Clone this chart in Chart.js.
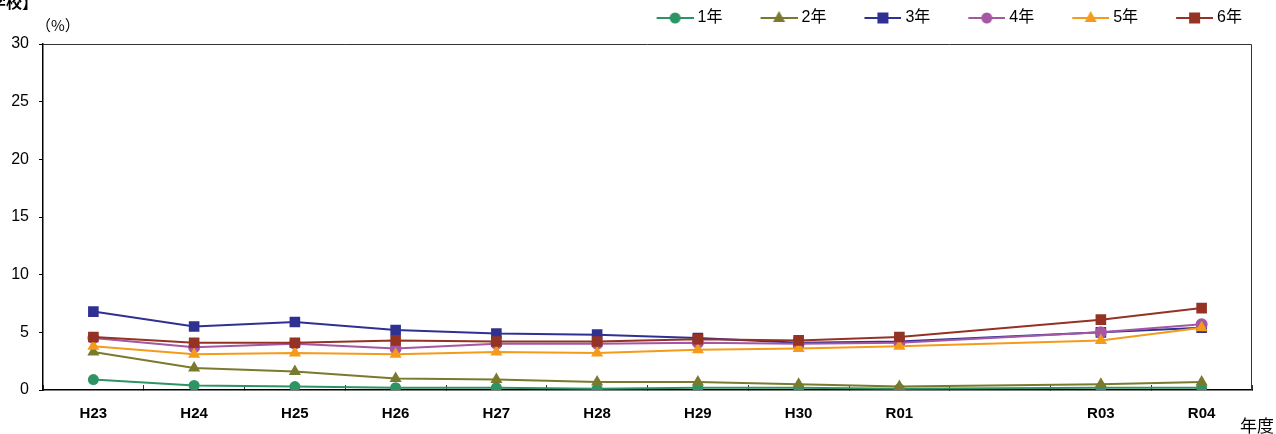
<!DOCTYPE html>
<html>
<head>
<meta charset="utf-8">
<script src="https://cdn.jsdelivr.net/npm/chart.js@4"></script>
<style>
html,body{margin:0;padding:0;background:#fff;}
#wrap{position:relative;width:1276px;height:434px;}
</style>
</head>
<body>
<div id="wrap"><canvas id="c" width="1276" height="434"></canvas></div>
<script>
const categories = ["H23","H24","H25","H26","H27","H28","H29","H30","R01","R02","R03","R04"];
const tickLabels = ["H23","H24","H25","H26","H27","H28","H29","H30","R01","","R03","R04"];
const seriesNames = ["1年","2年","3年","4年","5年","6年"];
const grade1 = [0.9, 0.4, 0.3, 0.2, 0.2, 0.1, 0.2, 0.2, 0.1, null, 0.2, 0.2];
const grade2 = [3.3, 1.9, 1.6, 1.0, 0.9, 0.7, 0.7, 0.5, 0.3, null, 0.5, 0.7];
const grade3 = [6.8, 5.5, 5.9, 5.2, 4.9, 4.8, 4.5, 4.1, 4.2, null, 5.0, 5.4];
const grade4 = [4.5, 3.7, 4.0, 3.6, 4.0, 4.0, 4.1, 4.0, 4.1, null, 5.0, 5.7];
const grade5 = [3.8, 3.1, 3.2, 3.1, 3.3, 3.2, 3.5, 3.6, 3.8, null, 4.3, 5.4];
const grade6 = [4.6, 4.1, 4.1, 4.3, 4.2, 4.2, 4.4, 4.3, 4.6, null, 6.1, 7.1];
const yTicks = [0, 5, 10, 15, 20, 25, 30];

const colors = ["#2e9464", "#7a7a2e", "#2e3192", "#a557a3", "#f59b1a", "#943223"];
const styles = ["circle", "triangle", "rect", "circle", "triangle", "rect"];
const radii = [5.5, 7, 7.5, 6, 7, 7.5];
const allData = [grade1, grade2, grade3, grade4, grade5, grade6];

function legendIcon(color, style) {
  const cv = document.createElement('canvas');
  cv.width = 69; cv.height = 16;
  const g = cv.getContext('2d');
  g.strokeStyle = color; g.lineWidth = 2;
  g.beginPath(); g.moveTo(32, 8); g.lineTo(69, 8); g.stroke();
  g.fillStyle = color;
  const cx = 50.5, cy = 8;
  g.beginPath();
  if (style === 'circle') { g.arc(cx, cy, 5.5, 0, Math.PI*2); }
  else if (style === 'rect') { g.rect(cx-5.5, cy-5.5, 11, 11); }
  else { const rr = 7; g.moveTo(cx, cy-rr); g.lineTo(cx+rr*0.866, cy+rr*0.5+0.5); g.lineTo(cx-rr*0.866, cy+rr*0.5+0.5); g.closePath(); }
  g.fill();
  return cv;
}

const datasets = seriesNames.map((n, i) => ({
  label: n,
  data: allData[i],
  borderColor: colors[i],
  backgroundColor: colors[i],
  borderWidth: 2,
  pointStyle: styles[i],
  pointRadius: radii[i],
  pointHoverRadius: radii[i],
  pointBorderWidth: 0,
  pointBackgroundColor: colors[i],
  spanGaps: true,
  tension: 0,
  order: 5 - i
}));

const frameAndText = {
  id: 'frameAndText',
  afterDraw(chart) {
    const ctx = chart.ctx, a = chart.chartArea;
    ctx.save();
    ctx.strokeStyle = '#333';
    ctx.lineWidth = 1;
    ctx.beginPath();
    ctx.moveTo(a.left, a.top + 0.5); ctx.lineTo(a.right - 0.5, a.top + 0.5); ctx.lineTo(a.right - 0.5, a.bottom);
    ctx.stroke();
    ctx.fillStyle = '#000';
    ctx.font = '15px "Noto Sans CJK JP", "Liberation Sans", sans-serif';
    ctx.textBaseline = 'middle';
    ctx.textAlign = 'left';
    ctx.fillText('（%）', 36, 25);
    ctx.font = '17px "Noto Sans CJK JP", sans-serif';
    ctx.fillText('年度', 1240, 426);
    ctx.textAlign = 'right';
    ctx.font = 'bold 16px "Noto Sans CJK JP", sans-serif';
    ctx.fillText('【小学校】', 38, 2);
    ctx.restore();
  }
};

const legendFit = {
  id: 'legendFit',
  beforeInit(chart) {
    const lg = chart.legend;
    const orig = lg.fit;
    lg.fit = function() { orig.call(this); this.height = 44; };
  }
};

new Chart(document.getElementById('c'), {
  type: 'line',
  data: { labels: categories, datasets },
  plugins: [legendFit, frameAndText],
  options: {
    responsive: false,
    animation: false,
    layout: { padding: { left: 0, right: 24, top: 0, bottom: 0 } },
    plugins: {
      tooltip: { enabled: false },
      legend: {
        position: 'top',
        align: 'end',
        labels: {
          color: '#000',
          font: { size: 16, family: '"Liberation Sans", "Noto Sans CJK JP", sans-serif' },
          usePointStyle: true,
          pointStyleWidth: 61,
          boxHeight: 16,
          padding: 10,
          generateLabels(chart) {
            return chart.data.datasets.map((ds, i) => ({
              text: ds.label,
              fillStyle: ds.borderColor,
              strokeStyle: ds.borderColor,
              lineWidth: 0,
              pointStyle: legendIcon(ds.borderColor, styles[i]),
              fontColor: '#000',
              hidden: false,
              datasetIndex: i
            }));
          }
        }
      }
    },
    scales: {
      x: {
        type: 'category',
        offset: true,
        grid: { display: true, drawOnChartArea: false, drawTicks: true, tickLength: -5, color: '#333', offset: true },
        border: { display: true, color: '#000', width: 1.5 },
        ticks: {
          autoSkip: false, maxRotation: 0, padding: 20, color: '#000',
          font: { size: 15, weight: 'bold', family: '"Liberation Sans", Arial, sans-serif' },
          callback: (v, i) => tickLabels[i]
        },
        afterFit(s) { s.height = 44; }
      },
      y: {
        min: 0, max: 30,
        afterBuildTicks(s) { s.ticks = yTicks.map(v => ({ value: v })); },
        grid: { display: true, drawOnChartArea: false, drawTicks: true, tickLength: 4, color: '#000' },
        border: { display: true, color: '#000', width: 1.5 },
        ticks: { padding: 10, color: '#000', font: { size: 16, family: '"Liberation Sans", Arial, sans-serif' } },
        afterFit(s) { s.width = 43; }
      }
    }
  }
});
</script>
</body>
</html>
